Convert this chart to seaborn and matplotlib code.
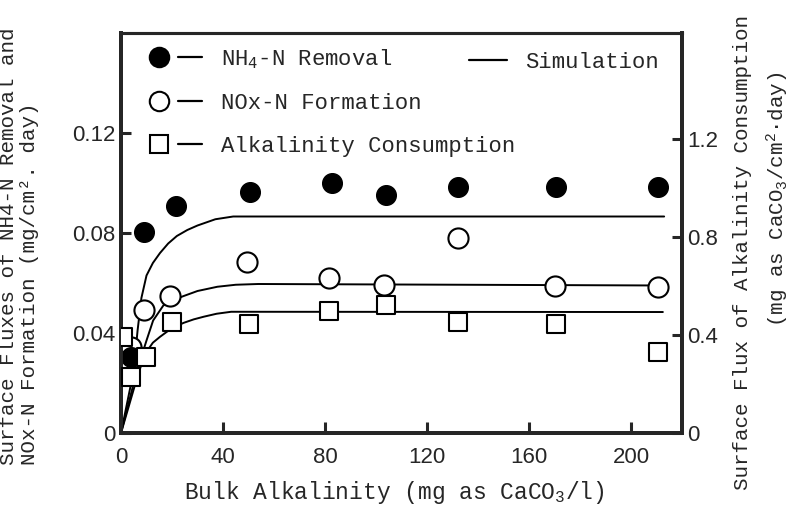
import matplotlib
matplotlib.use("Agg")
import matplotlib.pyplot as plt
import seaborn as sns
from matplotlib.lines import Line2D
from matplotlib.legend_handler import HandlerTuple
from matplotlib import font_manager

# ---------------- data ----------------
x_nh4 = [4, 9.2, 21.6, 50.6, 82.9, 104, 132.2, 170.7, 210.5]
nh4_removal = [0.0305, 0.0806, 0.0908, 0.0964, 0.0999, 0.0952, 0.0985, 0.0985, 0.0985]

x_nox = [4, 9.0, 19.3, 49.5, 81.4, 103, 132.2, 170, 210.5]
nox_formation = [0.0345, 0.0492, 0.0548, 0.0685, 0.0619, 0.0592, 0.0779, 0.0588, 0.0585]

x_alk = [0.6, 4, 9.7, 19.9, 50, 81.4, 104, 132.2, 170.5, 210.5]
alk_consumption = [0.392, 0.229, 0.311, 0.454, 0.444, 0.498, 0.522, 0.454, 0.444, 0.331]

sim_x_nh4 = [0, 5, 6.5, 8, 10, 12.5, 15.3, 18.5, 21.9, 26, 30, 37, 44, 213]
sim_nh4 = [0, 0.025, 0.041, 0.054, 0.063, 0.068, 0.072, 0.0758, 0.0788, 0.0812, 0.083, 0.0855, 0.0866, 0.0866]

sim_x_nox = [0, 6, 8.6, 10, 12.6, 16.6, 20.5, 24.6, 30, 37.8, 45, 53.8, 213]
sim_nox = [0, 0.024, 0.0325, 0.037, 0.045, 0.051, 0.0532, 0.0548, 0.0568, 0.0585, 0.0593, 0.0596, 0.0590]

sim_x_alk = [0, 7, 10, 12.5, 15.3, 19.9, 24.6, 28.5, 32.5, 37.5, 43.2, 212.5]
sim_alk = [0, 0.25, 0.331, 0.368, 0.392, 0.427, 0.449, 0.463, 0.474, 0.486, 0.494, 0.493]

x_ticks = [0, 40, 80, 120, 160, 200]
y_left_ticks = [0, 0.04, 0.08, 0.12]
y_left_labels = ["0", "0.04", "0.08", "0.12"]
y_right_ticks = [0, 0.4, 0.8, 1.2]
y_right_labels = ["0", "0.4", "0.8", "1.2"]

# ---------------- style ----------------
sns.set_style("ticks")
installed = {f.name for f in font_manager.fontManager.ttflist}
narrow = "Liberation Sans Narrow" if "Liberation Sans Narrow" in installed else "Liberation Sans"
MONO = ["Liberation Mono", "DejaVu Sans Mono"]
plt.rcParams["font.family"] = MONO
plt.rcParams["mathtext.fontset"] = "custom"
plt.rcParams["mathtext.rm"] = "Liberation Mono"
plt.rcParams["mathtext.it"] = "Liberation Mono"
plt.rcParams["mathtext.bf"] = "Liberation Mono:bold"

VLABEL_FS = 15
HLABEL_FS = 16
TICK_FS = 16

fig = plt.figure(figsize=(7.92, 5.16), dpi=100)
ax = fig.add_axes([121 / 792, 1 - 433 / 516, (682 - 121) / 792, (433 - 33) / 516])
ax2 = ax.twinx()

# simulation lines
sns.lineplot(x=sim_x_nh4, y=sim_nh4, ax=ax, color="black", linewidth=1.4,
             sort=False, estimator=None, zorder=2)
sns.lineplot(x=sim_x_nox, y=sim_nox, ax=ax, color="black", linewidth=1.4,
             sort=False, estimator=None, zorder=2)
sns.lineplot(x=sim_x_alk, y=sim_alk, ax=ax2, color="black", linewidth=1.4,
             sort=False, estimator=None, zorder=2)

# measured points
sns.scatterplot(x=x_nox, y=nox_formation, ax=ax, marker="o", s=210,
                color="white", edgecolor="black", linewidth=1.5, zorder=3)
sns.scatterplot(x=x_nh4, y=nh4_removal, ax=ax, marker="o", s=200,
                color="black", edgecolor="black", linewidth=1.0, zorder=4)
sns.scatterplot(x=x_alk, y=alk_consumption, ax=ax2, marker="s", s=150,
                color="white", edgecolor="black", linewidth=1.5, zorder=3)

# axes limits / ticks
ax.set_xlim(0, 220)
ax.set_ylim(0, 0.16)
ax2.set_ylim(0, 1.63)
ax.set_xticks(x_ticks)
ax.set_xticklabels([str(t) for t in x_ticks], fontfamily=narrow, fontsize=TICK_FS)
ax.set_yticks(y_left_ticks)
ax.set_yticklabels(y_left_labels, fontfamily=narrow, fontsize=TICK_FS)
ax2.set_yticks(y_right_ticks)
ax2.set_yticklabels(y_right_labels, fontfamily=narrow, fontsize=TICK_FS)

ax.tick_params(axis="x", direction="in", length=8, width=2.2, pad=10, top=False)
ax.tick_params(axis="y", direction="in", length=7, width=2.2, pad=4, right=False)
ax2.tick_params(axis="y", direction="in", length=7, width=2.2, pad=4)
ax.set_xlabel("")
ax.set_ylabel("")
ax2.set_ylabel("")

for a in (ax, ax2):
    for side in ("left", "right", "bottom"):
        a.spines[side].set_visible(True)
        a.spines[side].set_linewidth(2.8)
    a.spines["top"].set_visible(True)
    a.spines["top"].set_linewidth(2.2)

# legends
def marker_handle(fc, marker, ms):
    return Line2D([], [], marker=marker, linestyle="none", markersize=ms,
                  markerfacecolor=fc, markeredgecolor="black", markeredgewidth=1.5)

dash = Line2D([], [], color="black", linewidth=1.6)
handles = [
    (marker_handle("black", "o", 14), dash),
    (marker_handle("white", "o", 14), dash),
    (marker_handle("white", "s", 12.5), dash),
]
labels = ["NH$_4$-N Removal", "NOx-N Formation", "Alkalinity Consumption"]
leg1 = ax2.legend(handles=handles, labels=labels,
                  handler_map={tuple: HandlerTuple(ndivide=None, pad=0.34)},
                  loc="upper left", bbox_to_anchor=(0.047, 0.965),
                  frameon=False, fontsize=HLABEL_FS, handlelength=2.45,
                  handletextpad=0.85, labelspacing=1.0, borderpad=0,
                  borderaxespad=0)
ax2.add_artist(leg1)
ax2.legend(handles=[Line2D([], [], color="black", linewidth=1.6)],
           labels=["Simulation"], loc="upper left",
           bbox_to_anchor=(0.62, 0.953), frameon=False, fontsize=HLABEL_FS,
           handlelength=1.7, handletextpad=0.85, borderpad=0, borderaxespad=0)

# axis labels
fig.text(394 / 792, 1 - 493 / 516, "Bulk Alkalinity (mg as CaCO$_3$/l)",
         ha="center", va="center", fontsize=16.5)
fig.text(9 / 792, 1 - 465 / 516, "Surface Fluxes of NH4-N Removal and",
         rotation=90, ha="center", va="bottom", fontsize=VLABEL_FS)
fig.text(30 / 792, 1 - 465 / 516, "NOx-N Formation (mg/cm². day)",
         rotation=90, ha="center", va="bottom", fontsize=VLABEL_FS)
fig.text(742 / 792, 1 - 252 / 516, "Surface Flux of Alkalinity Consumption",
         rotation=90, ha="center", va="center", fontsize=VLABEL_FS)
fig.text(778 / 792, 1 - 199 / 516, "(mg as CaCO$_3$/cm$^2$·day)",
         rotation=90, ha="center", va="center", fontsize=VLABEL_FS)

fig.savefig("out.png", dpi=100)
